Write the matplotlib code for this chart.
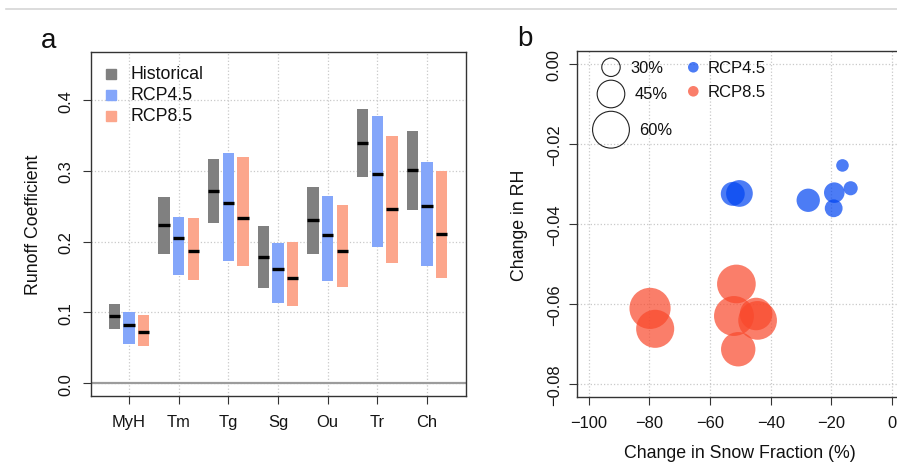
import matplotlib
matplotlib.use("Agg")
import matplotlib.pyplot as plt
from matplotlib.lines import Line2D
import numpy as np

plt.rcParams['font.family'] = ['Liberation Sans', 'DejaVu Sans']
plt.rcParams['axes.unicode_minus'] = True

# ---- panel a: runoff coefficient ranges and medians per basin ----
basins = ["MyH", "Tm", "Tg", "Sg", "Ou", "Tr", "Ch"]
scenarios = ["Historical", "RCP4.5", "RCP8.5"]

hist_low = [0.077, 0.183, 0.226, 0.134, 0.183, 0.292, 0.245]
hist_med = [0.095, 0.224, 0.272, 0.178, 0.230, 0.340, 0.301]
hist_high = [0.112, 0.263, 0.317, 0.222, 0.277, 0.387, 0.357]

rcp45_low = [0.056, 0.153, 0.173, 0.113, 0.144, 0.192, 0.166]
rcp45_med = [0.082, 0.205, 0.255, 0.161, 0.210, 0.296, 0.250]
rcp45_high = [0.100, 0.235, 0.325, 0.198, 0.264, 0.378, 0.313]

rcp85_low = [0.052, 0.146, 0.165, 0.109, 0.136, 0.170, 0.148]
rcp85_med = [0.073, 0.187, 0.233, 0.149, 0.187, 0.246, 0.211]
rcp85_high = [0.097, 0.234, 0.320, 0.200, 0.252, 0.349, 0.300]

runoff_ticks = [0.0, 0.1, 0.2, 0.3, 0.4]

# ---- panel b: change in snow fraction vs change in RH ----
rcp45_snow = [-16.3, -13.6, -19.0, -19.2, -27.6, -50.3, -52.5]
rcp45_rh = [-0.0253, -0.0310, -0.0321, -0.0360, -0.0340, -0.0323, -0.0324]
rcp45_size = [20.5, 23.0, 33.5, 29.0, 38.0, 43.5, 39.0]

rcp85_snow = [-79.8, -78.1, -51.3, -52.1, -44.8, -44.3, -50.7]
rcp85_rh = [-0.0610, -0.0661, -0.0549, -0.0629, -0.0624, -0.0640, -0.0712]
rcp85_size = [67.0, 62.0, 63.0, 65.0, 53.0, 63.0, 56.0]

size_keys = [30, 45, 60]
snow_ticks = [-100, -80, -60, -40, -20, 0]
rh_ticks = [0.00, -0.02, -0.04, -0.06, -0.08]

DPI = 100
fig = plt.figure(figsize=(8.97, 4.64), dpi=DPI)

spine_col = '#333333'
grid_kw = dict(color='#c9c9c9', linestyle=':', linewidth=0.9)
tick_fs = 11.9
label_fs = 12.8


def style_axes(ax, ypad):
    for sp in ax.spines.values():
        sp.set_color(spine_col)
        sp.set_linewidth(1.0)
    ax.tick_params(axis='both', direction='out', length=5.5, width=0.8,
                   color=spine_col, labelsize=tick_fs, labelcolor='#141414')
    ax.tick_params(axis='x', pad=7.6)
    ax.tick_params(axis='y', pad=ypad)
    ax.grid(True, **grid_kw)
    ax.set_axisbelow(True)


def rotate_yticklabels(ax):
    for lab in ax.get_yticklabels():
        lab.set_rotation(90)
        lab.set_va('center')
        lab.set_ha('right')


# ---------------- panel a ----------------
ax1 = fig.add_axes([0.1009, 0.1444, 0.4186, 0.7414])
x = np.arange(len(basins))
offsets = [-0.295, 0.0, 0.295]
width = 0.225
bar_colors = ['#808080', '#84a6fa', '#fca68c']
series = [(hist_low, hist_med, hist_high),
          (rcp45_low, rcp45_med, rcp45_high),
          (rcp85_low, rcp85_med, rcp85_high)]

ax1.axhline(0, color='#9c9c9c', lw=1.6, zorder=1.5)
for (lo, med, hi), off, col in zip(series, offsets, bar_colors):
    lo = np.array(lo)
    hi = np.array(hi)
    ax1.bar(x + off, hi - lo, bottom=lo, width=width, color=col,
            edgecolor='none', zorder=2)
    ax1.hlines(med, x + off - width / 2, x + off + width / 2,
               colors='black', lw=2.4, zorder=3)

ax1.set_xlim(-0.775, 6.785)
ax1.set_ylim(-0.018, 0.468)
ax1.set_xticks(x)
ax1.set_xticklabels(basins)
ax1.set_yticks(runoff_ticks)
ax1.set_yticklabels([f"{v:.1f}" for v in runoff_ticks])
style_axes(ax1, 6.6)
rotate_yticklabels(ax1)

# legend of panel a
leg_y = [0.937, 0.876, 0.815]
for name, col, yy in zip(scenarios, bar_colors, leg_y):
    ax1.plot([0.0533], [yy], marker='s', ms=7.9, color=col, ls='none',
             transform=ax1.transAxes, clip_on=False, zorder=4)
    ax1.text(0.1070, yy, name, transform=ax1.transAxes, fontsize=12.8,
             va='center', ha='left', color='#111111')

fig.text(33.3 / 897, 1 - 225 / 464, "Runoff Coefficient", rotation=90,
         ha='center', va='center', fontsize=label_fs, color='#111111')
fig.text(48.7 / 897, 1 - 40.7 / 464, "a", ha='center', va='center',
         fontsize=20, color='#111111')

# ---------------- panel b ----------------
ax2 = fig.add_axes([0.6429, 0.1416, 0.3649, 0.7457])


def marker_area(pct):
    # circle radius in pixels grows linearly with the percentage
    diam_pt = 2 * 0.307 * np.asarray(pct, dtype=float) * 72.0 / DPI
    return diam_pt ** 2


blue = (0.0, 0.267, 0.95)
red = (0.976, 0.283, 0.17)
ax2.scatter(rcp45_snow, rcp45_rh, s=marker_area(rcp45_size), color=blue,
            alpha=0.7, edgecolors='none', zorder=3)
ax2.scatter(rcp85_snow, rcp85_rh, s=marker_area(rcp85_size), color=red,
            alpha=0.7, edgecolors='none', zorder=3)

ax2.set_xlim(-104, 4)
ax2.set_ylim(-0.0832, 0.0032)
ax2.set_xticks(snow_ticks)
ax2.set_xticklabels([("\u2212" if v < 0 else "") + str(abs(v)) for v in snow_ticks])
ax2.set_yticks(rh_ticks)
ax2.set_yticklabels([("\u2212" if v < 0 else "") + f"{abs(v):.2f}" for v in rh_ticks])
style_axes(ax2, 5.2)
rotate_yticklabels(ax2)

# size key and colour key of panel b
key_y = [0.9538, 0.8766, 0.7734]
key_tx = [0.1628, 0.1760, 0.1904]
ax2.scatter([0.1048] * 3, key_y, s=marker_area(size_keys), facecolors='none',
            edgecolors='#222222', linewidths=0.8, transform=ax2.transAxes,
            clip_on=False, zorder=4)
for pct, yy, tx in zip(size_keys, key_y, key_tx):
    ax2.text(tx, yy, f"{pct}%", transform=ax2.transAxes, fontsize=11.9,
             va='center', ha='left', color='#111111')
for name, col, yy in zip(["RCP4.5", "RCP8.5"], [blue, red], [0.9538, 0.8844]):
    ax2.scatter([0.3563], [yy], s=(10.6 * 72 / DPI) ** 2, color=col, alpha=0.7,
                edgecolors='none', transform=ax2.transAxes, clip_on=False,
                zorder=4)
    ax2.text(0.4002, yy, name, transform=ax2.transAxes, fontsize=12.0,
             va='center', ha='left', color='#111111')

fig.text(519 / 897, 1 - 225.7 / 464, "Change in RH", rotation=90,
         ha='center', va='center', fontsize=label_fs, color='#111111')
fig.text(740 / 897, 1 - 454 / 464, "Change in Snow Fraction (%)",
         ha='center', va='center', fontsize=label_fs, color='#111111')
fig.text(525 / 897, 1 - 39 / 464, "b", ha='center', va='center',
         fontsize=20, color='#111111')

# thin separator line along the top
fig.add_artist(Line2D([6 / 897, 1.0], [1 - 10.3 / 464] * 2,
                      color='#d6d6d6', lw=1.2))

fig.savefig("out.png", dpi=DPI)
